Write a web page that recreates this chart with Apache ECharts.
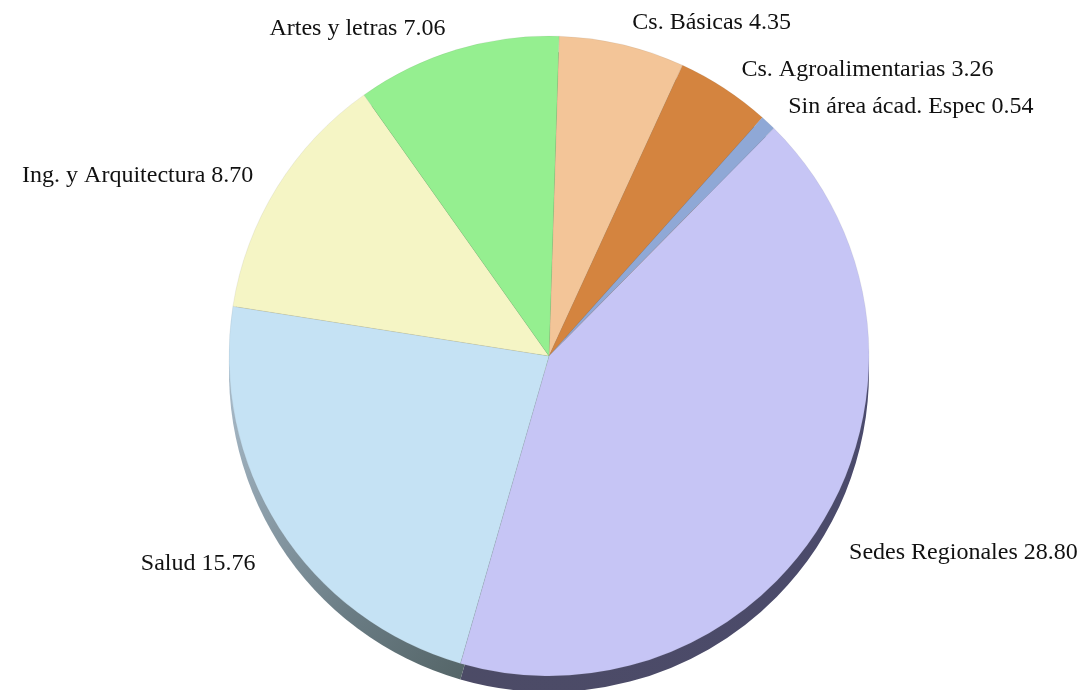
<!DOCTYPE html>
<html>
<head>
<meta charset="utf-8">
<script src="https://cdn.jsdelivr.net/npm/echarts@6/dist/echarts.min.js"></script>
<style>
    html, body { margin: 0; padding: 0; background: #fff; }
    #myChart { width: 1083px; height: 690px; }
</style>
</head>
<body>
<div id="myChart"></div>
<script>
    // areas, clockwise from the top
    var areaNames = ['Cs. Básicas', 'Cs. Agroalimentarias', 'Sin área ácad. Espec', 'Sedes Regionales', 'Salud', 'Ing. y Arquitectura', 'Artes y letras'];
    var areaValues = [4.35, 3.26, 0.54, 28.80, 15.76, 8.70, 7.06];

    var faceColors = ['#f3c598', '#d4843f', '#8fa8d6', '#c6c5f5', '#c5e2f4', '#f5f5c5', '#95ef90'];
    var sideColors = ['#a88560', '#8c5628', '#5a6a8c', '#4e4d6a', '#4e6062', '#a0a070', '#5a9a58'];

    var center = [549, 356];
    var depth = 16;
    var radius = 320;

    var myChart = echarts.init(document.getElementById('myChart'));

    var faceData = areaNames.map(function(name, i) {
        return { name: name, value: areaValues[i], itemStyle: { color: faceColors[i] } };
    });

    var sideData = areaNames.map(function(name, i) {
        var color = sideColors[i];
        if (name === 'Salud') {
            color = new echarts.graphic.LinearGradient(0, 0.2, 1, 1, [
                { offset: 0, color: '#a6b8c6' },
                { offset: 0.55, color: '#6a7c84' },
                { offset: 1, color: '#4a5a5a' }
            ]);
        } else if (name === 'Sedes Regionales') {
            color = new echarts.graphic.LinearGradient(0, 1, 1, 0, [
                { offset: 0, color: '#4c4b66' },
                { offset: 1, color: '#4a4a70' }
            ]);
        }
        return { name: name, value: areaValues[i], itemStyle: { color: color } };
    });

    myChart.setOption({
        backgroundColor: '#fff',
        animation: false,
        series: [
            {
                // extruded side of the pie
                type: 'pie',
                silent: true,
                center: [center[0], center[1] + depth],
                radius: radius,
                startAngle: 88.2,
                z: 1,
                label: { show: false },
                labelLine: { show: false },
                data: sideData
            },
            {
                type: 'pie',
                center: center,
                radius: radius,
                startAngle: 88.2,
                z: 2,
                avoidLabelOverlap: false,
                itemStyle: {
                    borderColor: 'rgba(110,110,110,0.2)',
                    borderWidth: 0.5
                },
                label: {
                    show: true,
                    position: 'outside',
                    fontFamily: 'Liberation Serif',
                    fontSize: 24,
                    color: '#111',
                    formatter: function(p) {
                        return p.name + ' ' + p.value.toFixed(2);
                    }
                },
                labelLine: {
                    show: false,
                    length: 22,
                    length2: 0
                },
                // labels under the pie sit below its side as well
                labelLayout: function(params) {
                    var r = params.labelRect;
                    var midY = r.y + r.height / 2;
                    if (midY > center[1]) {
                        return { dy: depth + 8 };
                    }
                    return {};
                },
                data: faceData
            }
        ]
    });
</script>
</body>
</html>
